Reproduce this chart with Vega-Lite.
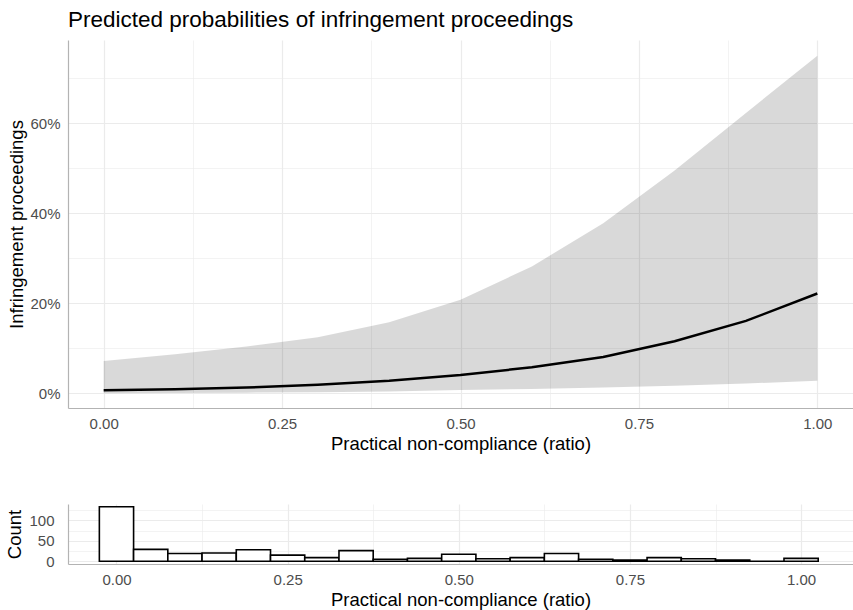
{
  "$schema": "https://vega.github.io/schema/vega-lite/v6.json",
  "padding": {"left": 5, "top": 8, "right": 0, "bottom": 2},
  "spacing": 51,
  "align": "none",
  "datasets": {
    "pred": [
      {"x": 0.0, "mean": 0.007, "lower": 0.0005, "upper": 0.072},
      {"x": 0.1, "mean": 0.009, "lower": 0.001, "upper": 0.087},
      {"x": 0.2, "mean": 0.013, "lower": 0.0017, "upper": 0.104},
      {"x": 0.3, "mean": 0.019, "lower": 0.0027, "upper": 0.125},
      {"x": 0.4, "mean": 0.028, "lower": 0.004, "upper": 0.158},
      {"x": 0.5, "mean": 0.041, "lower": 0.0075, "upper": 0.208},
      {"x": 0.6, "mean": 0.058, "lower": 0.01, "upper": 0.282},
      {"x": 0.7, "mean": 0.081, "lower": 0.013, "upper": 0.378},
      {"x": 0.8, "mean": 0.116, "lower": 0.017, "upper": 0.495},
      {"x": 0.9, "mean": 0.161, "lower": 0.022, "upper": 0.623},
      {"x": 1.0, "mean": 0.222, "lower": 0.028, "upper": 0.75}
    ],
    "hist": [
      {"bin_start": -0.025, "bin_end": 0.025, "count": 133},
      {"bin_start": 0.025, "bin_end": 0.075, "count": 29},
      {"bin_start": 0.075, "bin_end": 0.125, "count": 19},
      {"bin_start": 0.125, "bin_end": 0.175, "count": 20},
      {"bin_start": 0.175, "bin_end": 0.225, "count": 28},
      {"bin_start": 0.225, "bin_end": 0.275, "count": 15},
      {"bin_start": 0.275, "bin_end": 0.325, "count": 9},
      {"bin_start": 0.325, "bin_end": 0.375, "count": 26},
      {"bin_start": 0.375, "bin_end": 0.425, "count": 5},
      {"bin_start": 0.425, "bin_end": 0.475, "count": 7},
      {"bin_start": 0.475, "bin_end": 0.525, "count": 17},
      {"bin_start": 0.525, "bin_end": 0.575, "count": 6},
      {"bin_start": 0.575, "bin_end": 0.625, "count": 9},
      {"bin_start": 0.625, "bin_end": 0.675, "count": 19},
      {"bin_start": 0.675, "bin_end": 0.725, "count": 5},
      {"bin_start": 0.725, "bin_end": 0.775, "count": 3},
      {"bin_start": 0.775, "bin_end": 0.825, "count": 9},
      {"bin_start": 0.825, "bin_end": 0.875, "count": 6},
      {"bin_start": 0.875, "bin_end": 0.925, "count": 3},
      {"bin_start": 0.925, "bin_end": 0.975, "count": 0},
      {"bin_start": 0.975, "bin_end": 1.025, "count": 7}
    ]
  },
  "vconcat": [
    {
      "width": 785,
      "height": 368,
      "title": {
        "text": "Predicted probabilities of infringement proceedings",
        "anchor": "start",
        "frame": "group",
        "font": "Liberation Sans",
        "fontSize": 22.5,
        "fontWeight": "normal",
        "color": "#000000",
        "baseline": "alphabetic",
        "offset": -9
      },
      "data": {"name": "pred"},
      "layer": [
        {
          "mark": {"type": "area", "color": "#000000", "opacity": 0.15},
          "encoding": {
            "x": {
              "field": "x", "type": "quantitative",
              "scale": {"domain": [-0.05, 1.05], "nice": false, "zero": false},
              "axis": {"orient": "bottom", "values": [0.125, 0.375, 0.625, 0.875], "grid": true, "gridWidth": 0.6, "labels": false, "ticks": false, "domain": false, "title": null}
            },
            "y": {
              "field": "lower", "type": "quantitative",
              "scale": {"domain": [-0.0324, 0.785], "nice": false, "zero": false},
              "axis": {"orient": "left", "values": [0.1, 0.3, 0.5, 0.7], "grid": true, "gridWidth": 0.6, "labels": false, "ticks": false, "domain": false, "title": null}
            },
            "y2": {"field": "upper"}
          }
        },
        {
          "mark": {"type": "line", "color": "#000000", "strokeWidth": 2.5},
          "encoding": {
            "x": {
              "field": "x", "type": "quantitative",
              "scale": {"domain": [-0.05, 1.05], "nice": false, "zero": false},
              "axis": {"orient": "bottom", "values": [0, 0.25, 0.5, 0.75, 1], "format": ".2f", "grid": true, "title": "Practical non-compliance (ratio)", "labelPadding": 8, "titlePadding": 3}
            },
            "y": {
              "field": "mean", "type": "quantitative",
              "scale": {"domain": [-0.0324, 0.785], "nice": false, "zero": false},
              "axis": {"orient": "left", "values": [0, 0.2, 0.4, 0.6], "format": ".0%", "grid": true, "title": "Infringement proceedings", "labelPadding": 8, "titlePadding": 3}
            }
          }
        }
      ],
      "resolve": {"axis": {"x": "independent", "y": "independent"}}
    },
    {
      "width": 785,
      "height": 60,
      "data": {"name": "hist"},
      "layer": [
        {
          "mark": {"type": "bar", "opacity": 0},
          "encoding": {
            "x": {
              "field": "bin_start", "type": "quantitative",
              "scale": {"domain": [-0.0708, 1.0758], "nice": false, "zero": false},
              "axis": {"orient": "bottom", "values": [0.125, 0.375, 0.625, 0.875], "grid": true, "gridWidth": 0.6, "labels": false, "ticks": false, "domain": false, "title": null}
            },
            "x2": {"field": "bin_end"},
            "y": {
              "field": "count", "type": "quantitative",
              "scale": {"domain": [-6.65, 139.65], "nice": false, "zero": false},
              "axis": {"orient": "left", "values": [25, 75, 125], "grid": true, "gridWidth": 0.6, "labels": false, "ticks": false, "domain": false, "title": null}
            },
            "y2": {"datum": 0}
          }
        },
        {
          "mark": {"type": "bar", "fill": "#ffffff", "stroke": "#000000", "strokeWidth": 1.6},
          "encoding": {
            "x": {
              "field": "bin_start", "type": "quantitative",
              "scale": {"domain": [-0.0708, 1.0758], "nice": false, "zero": false},
              "axis": {"orient": "bottom", "values": [0, 0.25, 0.5, 0.75, 1], "format": ".2f", "grid": true, "title": "Practical non-compliance (ratio)", "labelPadding": 8, "titlePadding": 3}
            },
            "x2": {"field": "bin_end"},
            "y": {
              "field": "count", "type": "quantitative",
              "scale": {"domain": [-6.65, 139.65], "nice": false, "zero": false},
              "axis": {"orient": "left", "values": [0, 50, 100], "grid": true, "title": "Count", "labelPadding": 14, "titlePadding": 4}
            },
            "y2": {"datum": 0}
          }
        }
      ],
      "resolve": {"axis": {"x": "independent", "y": "independent"}}
    }
  ],
  "config": {
    "view": {"stroke": null},
    "font": "Liberation Sans",
    "axis": {
      "labelFont": "Liberation Sans",
      "labelFontSize": 15,
      "labelColor": "#4d4d4d",
      "labelFlush": false,
      "labelPadding": 10,
      "titleFont": "Liberation Sans",
      "titleFontSize": 18.5,
      "titleFontWeight": "normal",
      "titleColor": "#000000",
      "ticks": false,
      "tickSize": 0,
      "domainColor": "#b3b3b3",
      "domainWidth": 1.2,
      "gridColor": "#ebebeb",
      "gridWidth": 1.2
    }
  }
}
